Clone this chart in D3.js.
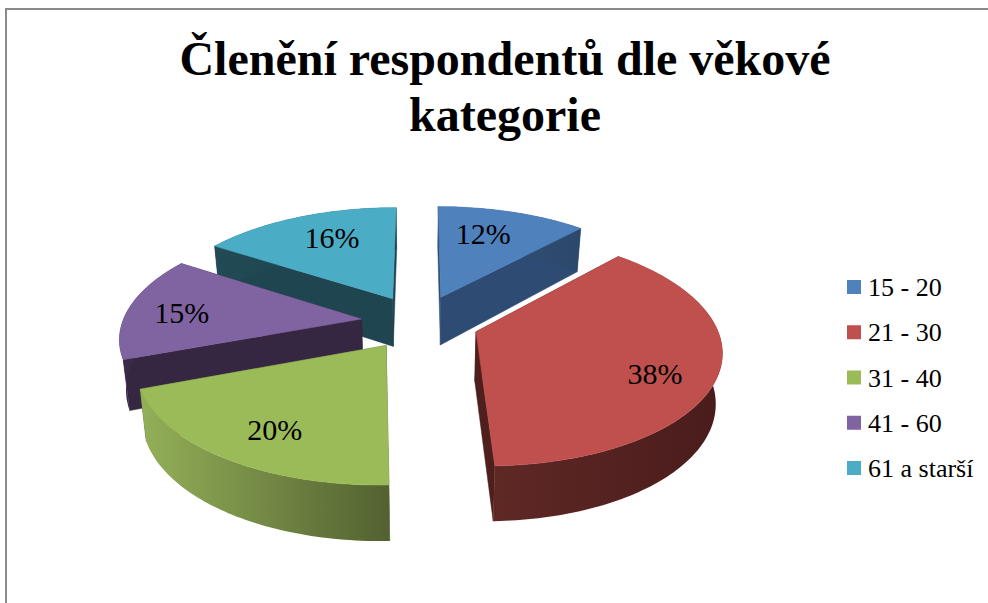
<!DOCTYPE html>
<html><head><meta charset="utf-8">
<style>html,body{margin:0;padding:0;background:#fff}svg{display:block}text{font-family:"Liberation Serif",serif;fill:#000}</style>
<script src="https://cdn.jsdelivr.net/npm/d3@7/dist/d3.min.js"></script></head>
<body><svg id="c" width="988" height="603"></svg>
<script>
const titleLines = ["Členění respondentů dle věkové", "kategorie"];
const categories = ["15 - 20", "21 - 30", "31 - 40", "41 - 60", "61 a starší"];
const values = [12, 38, 20, 15, 16];
const labels = ["12%", "38%", "20%", "15%", "16%"];
const colors = ["#4f81bd", "#c0504d", "#9bbb59", "#8064a2", "#4bacc6"];
const wallColors = ["#2e4c73", "#4e1f1d", "#5e7035", "#352742", "#1e4550"];
const outerStart = ["#34527a", "#5f2825", "#94b058", "#3a2b47", "#214a55"];
const outerEnd = ["#2c486c", "#491c1c", "#526130", "#33253f", "#1d434e"];
const drawOrder = [4, 0, 3, 1, 2];
const labelShiftX = [-11, 7, 1, -12, 10];
const labelShiftY = [0, 12, 7, 2, 0];

const W = 988, H = 603;
const cx = 420, cy = 322, R = 239, Ry = 111, persp = 0.149, explode = 0.247, D = 49;
const svg = d3.select("#c");
const defs = svg.append("defs");

svg.append("rect").attr("x", 6).attr("y", 9).attr("width", W + 10).attr("height", H + 10)
  .attr("fill", "#fff").attr("stroke", "#8a8a8a").attr("stroke-width", 2);

function project(u, v, z) {
  const s = 1 / (1 - persp * v);
  const shrink = 1 - 0.022 * z;
  return [cx + R * u * s * shrink, cy + Ry * v * s + D * (1 + 0.12 * v) * z];
}
const line = d3.line();
const pie = d3.pie().sort(null).value(d => d)(values);

function slicePoint(a, mid, r, z) {
  const u = explode * Math.sin(mid) + r * Math.sin(a);
  const v = -explode * Math.cos(mid) - r * Math.cos(a);
  return project(u, v, z);
}

const sliceSel = svg.selectAll("g.slice").data(drawOrder).join("g").attr("class", "slice");
sliceSel.each(function (i) {
  const d = pie[i], g = d3.select(this);
  const mid = (d.startAngle + d.endAngle) / 2;
  const angles = d3.range(d.startAngle, d.endAngle, 0.02).concat(d.endAngle);
  const rim = z => angles.map(a => slicePoint(a, mid, 1, z));
  const apex = z => slicePoint(mid, mid, 0, z);

  [d.startAngle, d.endAngle].forEach(a => {
    g.append("path").attr("fill", wallColors[i]).attr("stroke", wallColors[i]).attr("stroke-width", 0.5)
      .attr("d", line([apex(0), slicePoint(a, mid, 1, 0), slicePoint(a, mid, 1, 1), apex(1)]) + "Z");
  });
  const gid = "outer" + i;
  const gr = defs.append("linearGradient").attr("id", gid).attr("x1", 0).attr("x2", 1).attr("y1", 0).attr("y2", 0);
  gr.append("stop").attr("offset", 0).attr("stop-color", outerStart[i]);
  gr.append("stop").attr("offset", 1).attr("stop-color", outerEnd[i]);
  g.append("path").attr("fill", `url(#${gid})`)
    .attr("d", line(rim(0).concat(rim(1).reverse())) + "Z");
  g.append("path").attr("fill", colors[i]).attr("stroke", colors[i]).attr("stroke-width", 0.5)
    .attr("d", line([apex(0)].concat(rim(0))) + "Z");
  const p = slicePoint(mid, mid, 0.72, 0);
  g.append("text").attr("x", p[0] + labelShiftX[i]).attr("y", p[1] + labelShiftY[i]).attr("dy", "0.34em")
    .attr("text-anchor", "middle").attr("font-size", 30).text(labels[i]);
});

svg.append("g").selectAll("text").data(titleLines).join("text")
  .attr("x", 505).attr("y", (d, i) => 75 + i * 56)
  .attr("text-anchor", "middle").attr("font-size", 48).attr("font-weight", "bold").text(d => d);

const legendY = d3.scalePoint().domain(categories).range([287, 468]);
const leg = svg.append("g").selectAll("g").data(categories).join("g")
  .attr("transform", d => `translate(847,${legendY(d)})`);
leg.append("rect").attr("x", 0).attr("y", -7).attr("width", 14).attr("height", 14)
  .attr("fill", (d, i) => colors[i]);
leg.append("text").attr("x", 21).attr("y", 9).attr("font-size", 26).text(d => d);
</script></body></html>
